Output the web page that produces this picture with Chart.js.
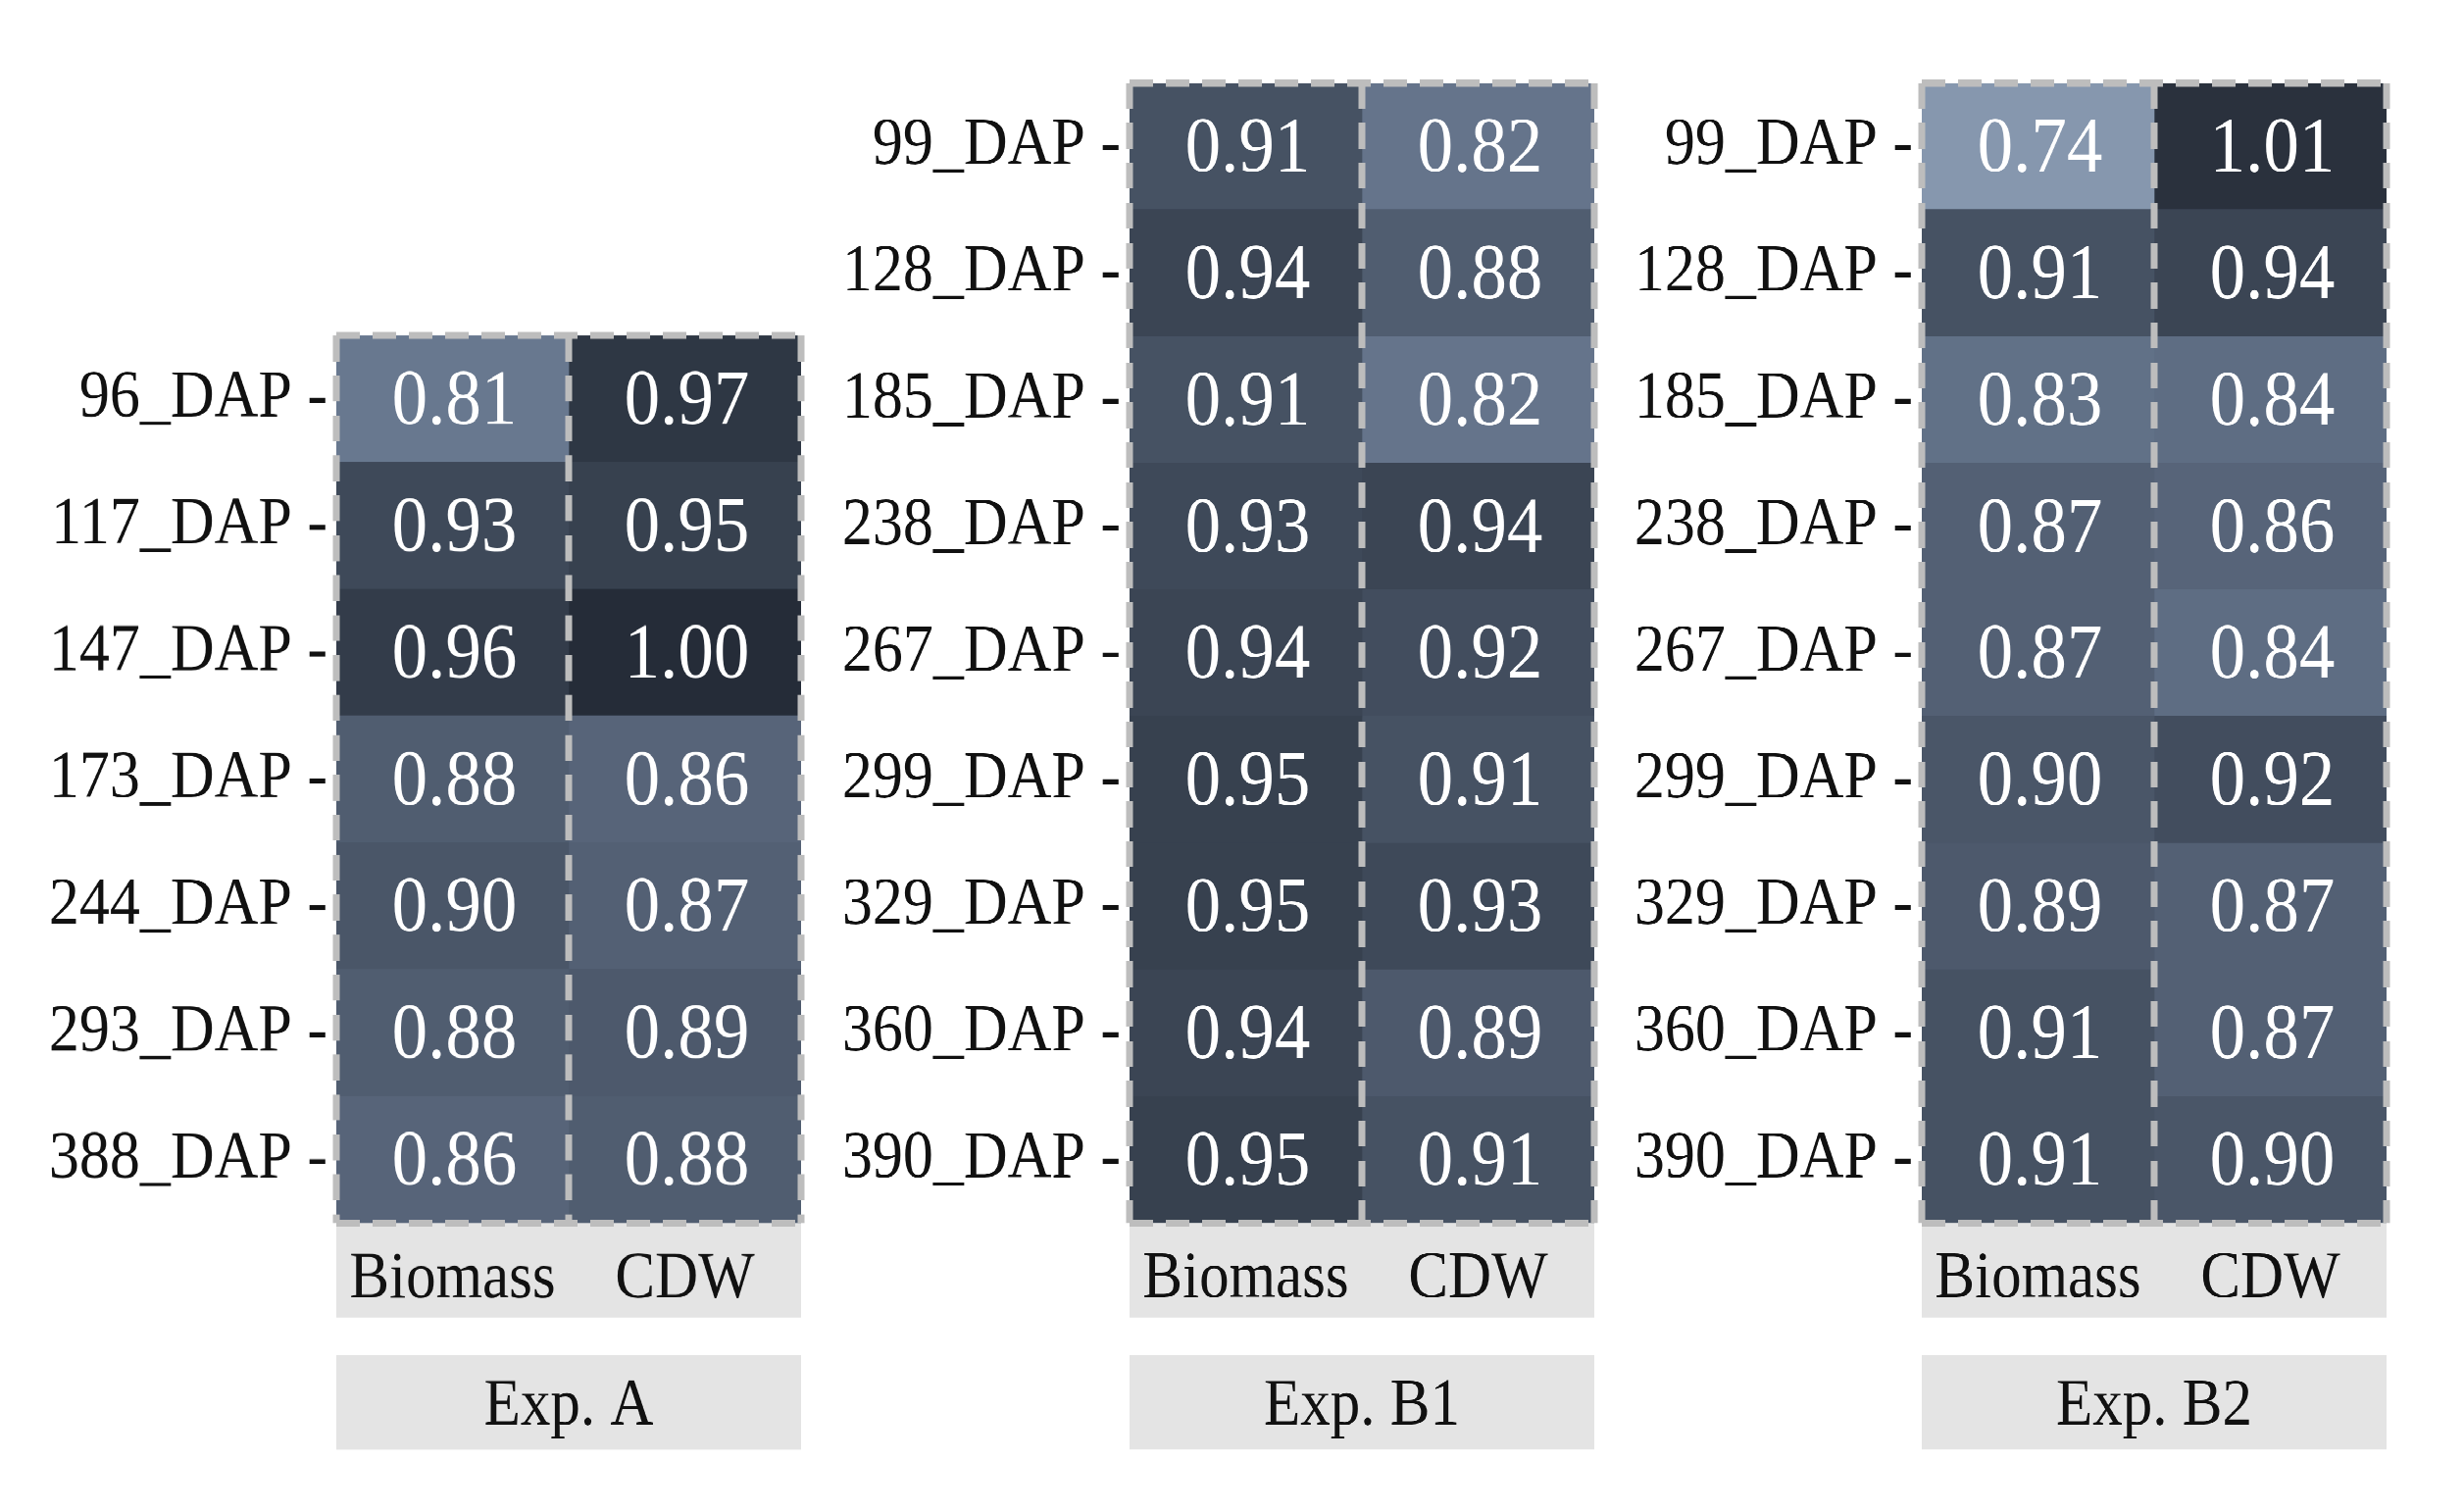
<!DOCTYPE html>
<html>
<head>
<meta charset="utf-8">
<title>Exp. A / B1 / B2</title>
<script src="https://cdn.jsdelivr.net/npm/chart.js@4.4.1/dist/chart.umd.min.js"></script>
<style>
  html, body { margin: 0; padding: 0; background: #fff; }
  body { width: 2513px; height: 1542px; overflow: hidden; position: relative; }
  #stage { position: absolute; left: 0; top: 0; width: 2513px; transform-origin: 0 0; }
  .panel { position: absolute; }
</style>
</head>
<body>
<div id="stage"></div>
<script>
// ---------------- Data ----------------
const columns = ["Biomass", "CDW"];
const experiments = ["Exp. A", "Exp. B1", "Exp. B2"];

const dapA = ["96_DAP", "117_DAP", "147_DAP", "173_DAP", "244_DAP", "293_DAP", "388_DAP"];
const biomassA = [0.81, 0.93, 0.96, 0.88, 0.90, 0.88, 0.86];
const cdwA = [0.97, 0.95, 1.00, 0.86, 0.87, 0.89, 0.88];

const dapB1 = ["99_DAP", "128_DAP", "185_DAP", "238_DAP", "267_DAP", "299_DAP", "329_DAP", "360_DAP", "390_DAP"];
const biomassB1 = [0.91, 0.94, 0.91, 0.93, 0.94, 0.95, 0.95, 0.94, 0.95];
const cdwB1 = [0.82, 0.88, 0.82, 0.94, 0.92, 0.91, 0.93, 0.89, 0.91];

const dapB2 = ["99_DAP", "128_DAP", "185_DAP", "238_DAP", "267_DAP", "299_DAP", "329_DAP", "360_DAP", "390_DAP"];
const biomassB2 = [0.74, 0.91, 0.83, 0.87, 0.87, 0.90, 0.89, 0.91, 0.91];
const cdwB2 = [1.01, 0.94, 0.84, 0.86, 0.84, 0.92, 0.87, 0.87, 0.90];

// ---------------- Colour scale ----------------
const colorStops = [
  [0.74, "#8697AE"], [0.81, "#68788F"], [0.84, "#5E6D83"], [0.87, "#536074"],
  [0.90, "#4A5668"], [0.93, "#3E4959"], [0.95, "#37414F"], [0.97, "#2E3744"],
  [1.00, "#252C38"], [1.01, "#2A313D"]
];

function hexToRgb(h) {
  const n = parseInt(h.slice(1), 16);
  return [(n >> 16) & 255, (n >> 8) & 255, n & 255];
}

function cellColor(v) {
  if (v <= colorStops[0][0]) return colorStops[0][1];
  for (let i = 1; i < colorStops.length; i++) {
    const [v1, c1] = colorStops[i];
    if (v <= v1) {
      const [v0, c0] = colorStops[i - 1];
      const t = (v - v0) / (v1 - v0);
      const a = hexToRgb(c0), b = hexToRgb(c1);
      const rgb = a.map((x, k) => Math.round(x + (b[k] - x) * t));
      return `rgb(${rgb.join(",")})`;
    }
  }
  return colorStops[colorStops.length - 1][1];
}

// ---------------- Layout (target pixels) ----------------
const STRETCH = 1.1;            // the figure is a little taller than wide
const PANEL_LEFT = [343, 1152, 1960];
const PANEL_W = 474;
const PANEL_BOTTOM = 1247;
const ROW_H = 129.2;
const STRIPS = [[0, 96], [134.5, 231]];   // below the panel
const AXIS_H = 231 / STRETCH;
const Y_AXIS_W = 340;
const PAD = 6;
const FONT = '"Palatino Linotype", "Book Antiqua", Palatino, "URW Palladio L", "Liberation Serif", serif';
const STRIP_FILL = "#E4E4E4";
const FRAME = "#BDBDBD";

const stage = document.getElementById("stage");
stage.style.transform = `scaleY(${STRETCH})`;

const panels = [
  { title: experiments[0], dap: dapA, values: [biomassA, cdwA] },
  { title: experiments[1], dap: dapB1, values: [biomassB1, cdwB1] },
  { title: experiments[2], dap: dapB2, values: [biomassB2, cdwB2] }
];

// grey strips under each panel
const stripPlugin = {
  id: "strips",
  beforeDraw(chart) {
    const { ctx, chartArea: a } = chart;
    ctx.save();
    ctx.fillStyle = STRIP_FILL;
    STRIPS.forEach(([y0, y1]) => {
      ctx.fillRect(a.left, a.bottom + y0 / STRETCH, a.right - a.left, (y1 - y0) / STRETCH);
    });
    ctx.restore();
  }
};

// dashed frame + column divider
const framePlugin = {
  id: "frame",
  afterDraw(chart) {
    const { ctx, chartArea: a, scales } = chart;
    ctx.save();
    ctx.strokeStyle = FRAME;
    ctx.setLineDash([24, 13]);
    ctx.lineWidth = 7;
    for (let c = 0; c <= columns.length; c++) {
      const x = scales.x.getPixelForValue(c);
      ctx.beginPath();
      ctx.moveTo(x, a.top);
      ctx.lineTo(x, a.bottom);
      ctx.stroke();
    }
    ctx.lineWidth = 6.5;
    [a.top, a.bottom].forEach(y => {
      ctx.beginPath();
      ctx.moveTo(a.left, y);
      ctx.lineTo(a.right, y);
      ctx.stroke();
    });
    ctx.restore();
  }
};

panels.forEach((p, k) => {
  const top = (PANEL_BOTTOM - p.dap.length * ROW_H) / STRETCH;
  const bottom = PANEL_BOTTOM / STRETCH;

  const div = document.createElement("div");
  div.className = "panel";
  div.style.left = (PANEL_LEFT[k] - Y_AXIS_W) + "px";
  div.style.top = (top - PAD) + "px";
  div.style.width = (Y_AXIS_W + PANEL_W + PAD) + "px";
  div.style.height = (PAD + (bottom - top) + AXIS_H + PAD) + "px";
  const canvas = document.createElement("canvas");
  div.appendChild(canvas);
  stage.appendChild(div);

  // value text in each cell
  const cellText = {
    id: "cellText",
    afterDatasetsDraw(chart) {
      const ctx = chart.ctx;
      ctx.save();
      ctx.fillStyle = "#FFFFFF";
      ctx.font = `73px ${FONT}`;
      ctx.textAlign = "center";
      ctx.textBaseline = "middle";
      chart.data.datasets.forEach((ds, d) => {
        chart.getDatasetMeta(d).data.forEach((bar, i) => {
          ctx.fillText(p.values[d][i].toFixed(2), (bar.x + bar.base) / 2 + 2, bar.y + 4);
        });
      });
      ctx.restore();
    }
  };

  new Chart(canvas, {
    type: "bar",
    data: {
      labels: p.dap,
      datasets: columns.map((col, c) => ({
        label: col,
        data: p.dap.map(() => [c, c + 1]),
        backgroundColor: p.values[c].map(cellColor),
        borderWidth: 0,
        barPercentage: 1,
        categoryPercentage: 1,
        grouped: false
      }))
    },
    options: {
      indexAxis: "y",
      responsive: true,
      maintainAspectRatio: false,
      animation: false,
      devicePixelRatio: 2,
      layout: { padding: { top: PAD, right: PAD, bottom: PAD, left: 0 } },
      plugins: {
        legend: { display: false },
        tooltip: { enabled: false }
      },
      scales: {
        x: {
          type: "linear",
          min: 0,
          max: columns.length,
          grid: { display: false },
          border: { display: false },
          afterBuildTicks: s => { s.ticks = columns.map((_, c) => ({ value: c + 0.5 })); },
          afterFit: s => { s.height = AXIS_H; s.paddingLeft = 0; s.paddingRight = 0; },
          ticks: {
            autoSkip: false,
            maxRotation: 0,
            padding: 8,
            color: "#111",
            font: { family: FONT, size: 61 },
            callback: v => columns[Math.floor(v)]
          },
          title: {
            display: true,
            text: p.title,
            color: "#111",
            font: { family: FONT, size: 61 },
            padding: { top: 0, bottom: 3 }
          }
        },
        y: {
          type: "category",
          grid: { display: false, drawTicks: false },
          border: { display: false },
          afterFit: s => { s.width = Y_AXIS_W; s.paddingTop = 0; s.paddingBottom = 0; },
          ticks: {
            autoSkip: false,
            padding: 9,
            color: "#111",
            font: { family: FONT, size: 62 },
            callback: function (v) { return this.getLabelForValue(v) + " -"; }
          }
        }
      }
    },
    plugins: [stripPlugin, cellText, framePlugin]
  });
});
</script>
</body>
</html>
